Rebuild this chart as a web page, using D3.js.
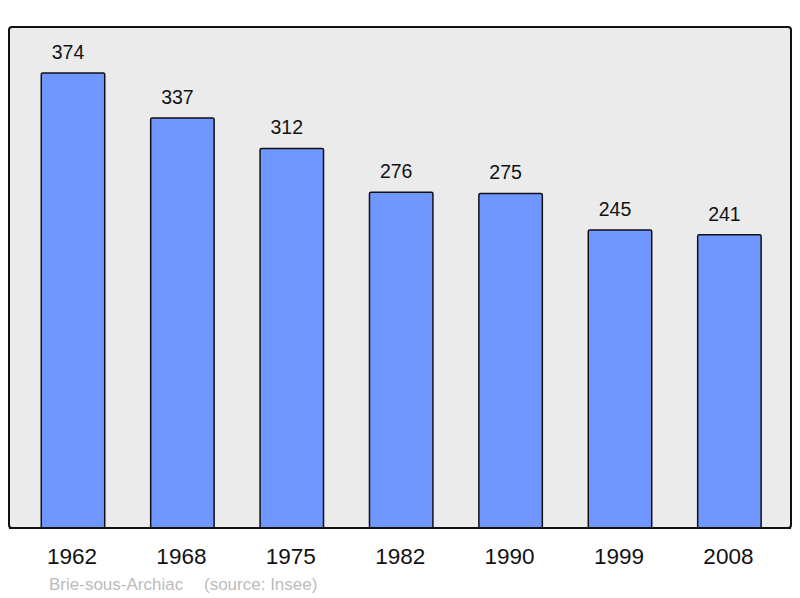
<!DOCTYPE html>
<html>
<head>
<meta charset="utf-8">
<script src="https://cdn.jsdelivr.net/npm/d3@7"></script>
<style>
body { margin: 0; background: #fff; }
text { font-family: "Liberation Sans", Arial, sans-serif; }
</style>
</head>
<body>
<script>
// population by census year
var years = ["1962", "1968", "1975", "1982", "1990", "1999", "2008"];
var population = [374, 337, 312, 276, 275, 245, 241];
var commune = "Brie-sous-Archiac";
var source = "(source: Insee)";

var svg = d3.select("body").append("svg")
    .attr("width", 800)
    .attr("height", 598);

// grey panel
svg.append("rect")
    .attr("x", 9).attr("y", 27)
    .attr("width", 782).attr("height", 501)
    .attr("rx", 3)
    .attr("fill", "#ebebeb")
    .attr("stroke", "#111")
    .attr("stroke-width", 2);

var x = d3.scaleBand().domain(years).range([18.3, 784.1]).paddingInner(0.42).paddingOuter(0.21);
var y = d3.scaleLinear().domain([0, 374]).range([528, 73]);

var bars = svg.append("g");
years.forEach(function(yr, i) {
    bars.append("rect")
        .attr("x", x(yr))
        .attr("y", y(population[i]))
        .attr("width", x.bandwidth())
        .attr("height", y(0) - y(population[i]))
        .attr("rx", 1.5)
        .attr("fill", "#7097ff")
        .attr("stroke", "#111")
        .attr("stroke-width", 1.5);
    // value above bar, sits a little left of centre like the original
    bars.append("text")
        .attr("x", x(yr) + x.bandwidth() / 2 - 5)
        .attr("y", y(population[i]) - 14)
        .attr("text-anchor", "middle")
        .attr("font-size", 19.5)
        .attr("fill", "#111")
        .text(population[i]);
});

// redraw bottom edge over the bars
svg.append("line")
    .attr("x1", 9).attr("x2", 791)
    .attr("y1", 528).attr("y2", 528)
    .attr("stroke", "#111").attr("stroke-width", 2);

var axis = d3.axisBottom(x).tickSize(0).tickPadding(20);
var ax = svg.append("g").attr("transform", "translate(-1,528)").call(axis);
ax.select(".domain").remove();
ax.selectAll("text")
    .attr("font-size", 22.5)
    .attr("fill", "#111")
    .style("font-family", "'Liberation Sans', Arial, sans-serif");

svg.append("text")
    .attr("x", 49).attr("y", 590)
    .attr("font-size", 17)
    .attr("fill", "#bbb")
    .text(commune);
svg.append("text")
    .attr("x", 204).attr("y", 590)
    .attr("font-size", 17)
    .attr("fill", "#bbb")
    .text(source);
</script>
</body>
</html>
